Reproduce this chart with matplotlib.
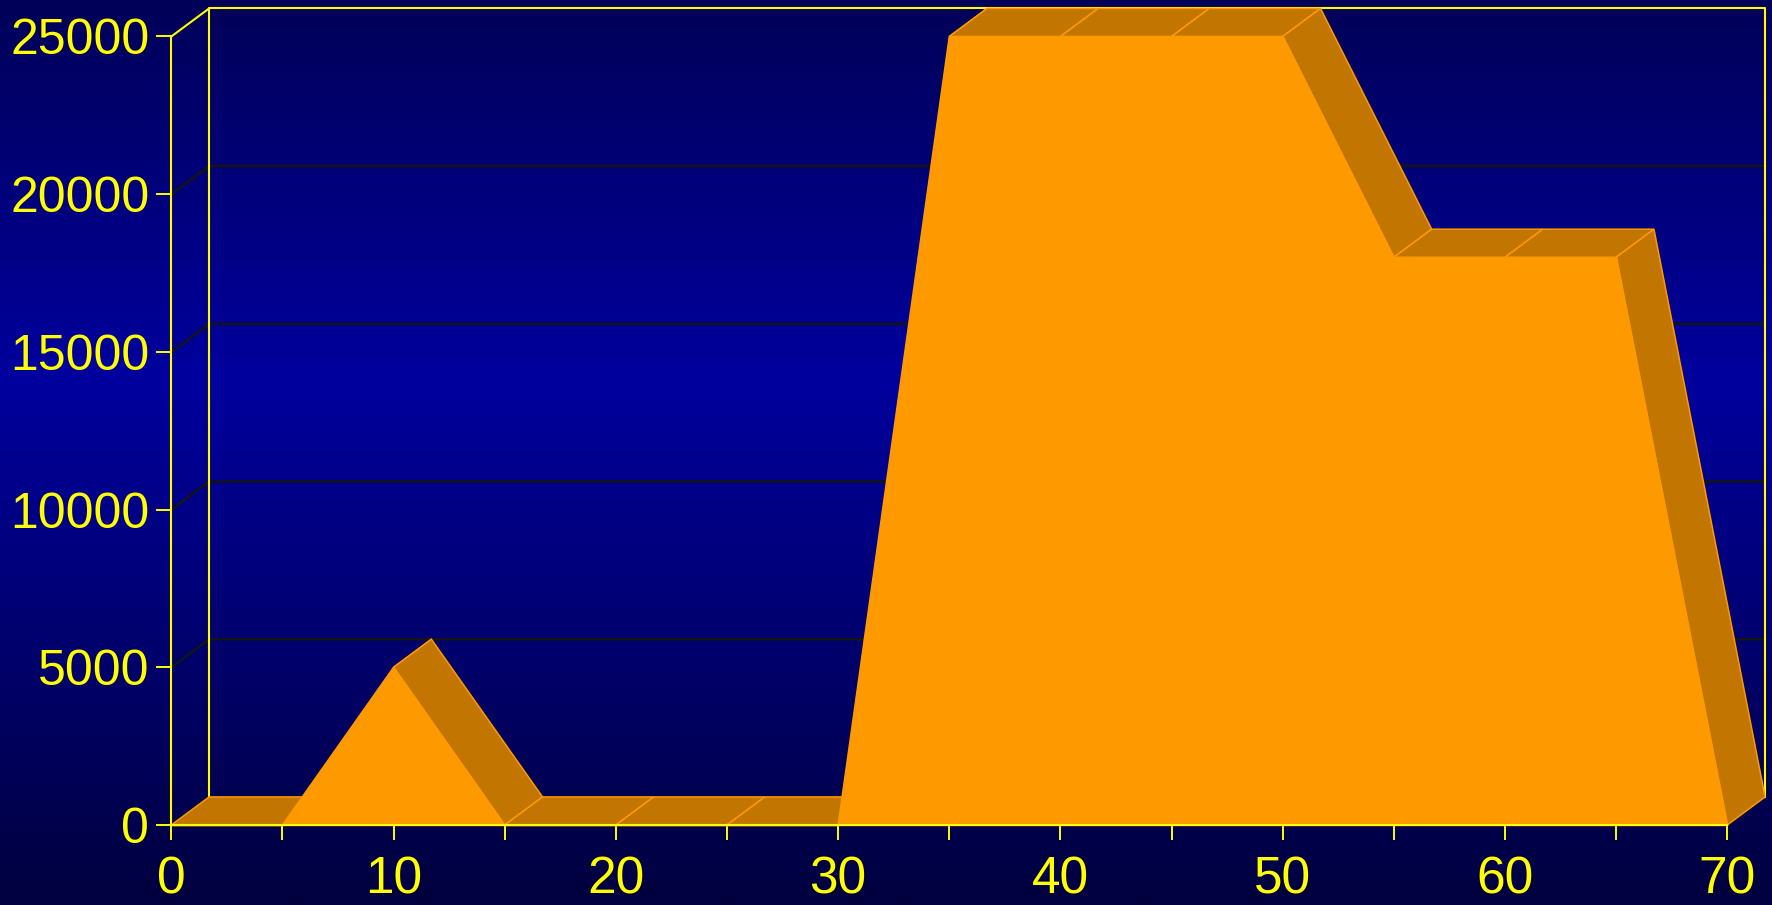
import numpy as np
import matplotlib
matplotlib.use("Agg")
import matplotlib.pyplot as plt
from matplotlib.patches import Polygon
from matplotlib.colors import LinearSegmentedColormap

# Series data
x_vals = [0, 5, 10, 15, 20, 25, 30, 35, 40, 45, 50, 55, 60, 65, 70]
values = [0, 0, 5000, 0, 0, 0, 0, 25000, 25000, 25000, 25000, 18000, 18000, 18000, 0]
y_ticks = [0, 5000, 10000, 15000, 20000, 25000]
x_ticks = list(range(0, 75, 5))
x_labels = [str(v) if v % 10 == 0 else "" for v in x_ticks]

# Styling
FRONT = "#FF9900"
SIDE = "#C27600"
FRAME = "#FFFF00"
GRID = "#141414"
DX, DY = 1.7, 890.0          # depth offset of the back plane, in data units
XMAX, YMAX = 70, 25000

plt.rcParams["font.family"] = ["Liberation Sans", "DejaVu Sans"]

W, H = 1772, 905
fig = plt.figure(figsize=(W / 100, H / 100), dpi=100)

# Vertical gradient background
bg = fig.add_axes([0, 0, 1, 1], zorder=-10)
cmap = LinearSegmentedColormap.from_list(
    "bg", [(0.0, "#000058"), (0.42, "#00009E"), (1.0, "#00003E")])
grad = np.linspace(0, 1, 512).reshape(-1, 1)
bg.imshow(grad, aspect="auto", cmap=cmap, extent=[0, 1, 0, 1], origin="upper")
bg.set_axis_off()

ax = fig.add_axes([171.3 / W, 80 / H, 1556 / W, 788.5 / H])
ax.set_xlim(0, XMAX)
ax.set_ylim(0, YMAX)
ax.patch.set_alpha(0)

# Back-wall gridlines with their diagonal links to the front axis
for gy in y_ticks[1:-1]:
    ax.plot([0, DX, XMAX + DX], [gy, gy + DY, gy + DY], color=GRID,
            lw=1.8, clip_on=False, zorder=1, solid_capstyle="butt")

# Back wall outline and top-left link
ax.plot([DX, DX, XMAX + DX, XMAX + DX], [DY, YMAX + DY, YMAX + DY, DY],
        color=FRAME, lw=1.5, clip_on=False, zorder=1.5)
ax.plot([0, DX], [YMAX, YMAX + DY], color=FRAME, lw=1.5, clip_on=False, zorder=1.5)

# Depth ribbons, drawn left to right
for i in range(len(x_vals) - 1):
    x0, x1 = x_vals[i], x_vals[i + 1]
    y0, y1 = values[i], values[i + 1]
    poly = Polygon([(x0, y0), (x1, y1), (x1 + DX, y1 + DY), (x0 + DX, y0 + DY)],
                   closed=True, facecolor=SIDE, edgecolor=FRONT, lw=1.1,
                   joinstyle="miter", clip_on=False, zorder=3)
    ax.add_patch(poly)

# Front face
ax.fill_between(x_vals, values, 0, facecolor=FRONT, edgecolor=FRONT,
                lw=1.0, zorder=4, clip_on=False)

# Axes styling
for s in ("top", "right"):
    ax.spines[s].set_visible(False)
for s in ("left", "bottom"):
    ax.spines[s].set_color(FRAME)
    ax.spines[s].set_linewidth(1.5)
    ax.spines[s].set_zorder(10)

ax.set_yticks(y_ticks)
ax.set_yticklabels([str(v) for v in y_ticks])
ax.set_xticks(x_ticks)
ax.set_xticklabels(x_labels)
ax.tick_params(axis="both", direction="out", length=10.8, width=1.4,
               color=FRAME, labelcolor=FRAME)
ax.tick_params(axis="y", labelsize=36, pad=5)
ax.tick_params(axis="x", labelsize=37, pad=11)
for t in ax.get_xticklines() + ax.get_yticklines():
    t.set_zorder(10)

fig.savefig("out.png", dpi=100)
